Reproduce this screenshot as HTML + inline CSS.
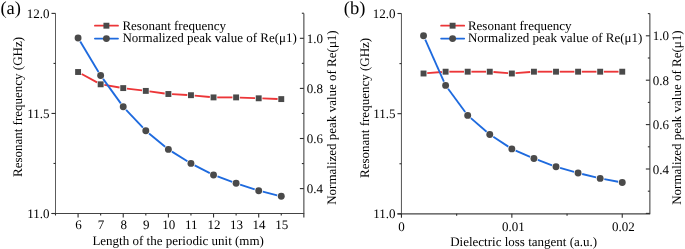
<!DOCTYPE html>
<html><head><meta charset="utf-8"><style>
html,body{margin:0;padding:0;background:#fff;width:685px;height:249px;overflow:hidden;}
svg{display:block;will-change:transform;}
text{font-family:"Liberation Serif",serif;text-rendering:geometricPrecision;}
</style></head><body>
<svg width="685" height="249" viewBox="0 0 685 249" font-family="Liberation Serif, serif">
<rect width="685" height="249" fill="#fff"/>
<line x1="55.50" y1="13.40" x2="55.50" y2="214.00" stroke="#5c5c5c" stroke-width="1.05" />
<line x1="303.85" y1="13.40" x2="303.85" y2="214.00" stroke="#5c5c5c" stroke-width="1.25" />
<line x1="51.50" y1="213.50" x2="303.85" y2="213.50" stroke="#444444" stroke-width="1.05" />
<line x1="51.50" y1="213.50" x2="55.50" y2="213.50" stroke="#2e2e2e" stroke-width="1.1" />
<line x1="51.50" y1="113.45" x2="55.50" y2="113.45" stroke="#2e2e2e" stroke-width="1.1" />
<line x1="51.50" y1="13.40" x2="55.50" y2="13.40" stroke="#2e2e2e" stroke-width="1.1" />
<line x1="53.50" y1="163.47" x2="55.50" y2="163.47" stroke="#2e2e2e" stroke-width="1.1" />
<line x1="53.50" y1="63.43" x2="55.50" y2="63.43" stroke="#2e2e2e" stroke-width="1.1" />
<line x1="299.85" y1="188.60" x2="303.85" y2="188.60" stroke="#2e2e2e" stroke-width="1.1" />
<line x1="299.85" y1="138.50" x2="303.85" y2="138.50" stroke="#2e2e2e" stroke-width="1.1" />
<line x1="299.85" y1="88.40" x2="303.85" y2="88.40" stroke="#2e2e2e" stroke-width="1.1" />
<line x1="299.85" y1="38.30" x2="303.85" y2="38.30" stroke="#2e2e2e" stroke-width="1.1" />
<line x1="301.85" y1="163.55" x2="303.85" y2="163.55" stroke="#2e2e2e" stroke-width="1.1" />
<line x1="301.85" y1="113.45" x2="303.85" y2="113.45" stroke="#2e2e2e" stroke-width="1.1" />
<line x1="301.85" y1="63.35" x2="303.85" y2="63.35" stroke="#2e2e2e" stroke-width="1.1" />
<line x1="301.85" y1="13.25" x2="303.85" y2="13.25" stroke="#2e2e2e" stroke-width="1.1" />
<line x1="78.08" y1="213.50" x2="78.08" y2="217.50" stroke="#2e2e2e" stroke-width="1.1" />
<line x1="123.23" y1="213.50" x2="123.23" y2="217.50" stroke="#2e2e2e" stroke-width="1.1" />
<line x1="168.39" y1="213.50" x2="168.39" y2="217.50" stroke="#2e2e2e" stroke-width="1.1" />
<line x1="213.54" y1="213.50" x2="213.54" y2="217.50" stroke="#2e2e2e" stroke-width="1.1" />
<line x1="258.70" y1="213.50" x2="258.70" y2="217.50" stroke="#2e2e2e" stroke-width="1.1" />
<line x1="303.85" y1="213.50" x2="303.85" y2="217.50" stroke="#2e2e2e" stroke-width="1.1" />
<line x1="55.50" y1="213.50" x2="55.50" y2="215.50" stroke="#2e2e2e" stroke-width="1.1" />
<line x1="100.65" y1="213.50" x2="100.65" y2="215.50" stroke="#2e2e2e" stroke-width="1.1" />
<line x1="145.81" y1="213.50" x2="145.81" y2="215.50" stroke="#2e2e2e" stroke-width="1.1" />
<line x1="190.96" y1="213.50" x2="190.96" y2="215.50" stroke="#2e2e2e" stroke-width="1.1" />
<line x1="236.12" y1="213.50" x2="236.12" y2="215.50" stroke="#2e2e2e" stroke-width="1.1" />
<line x1="281.27" y1="213.50" x2="281.27" y2="215.50" stroke="#2e2e2e" stroke-width="1.1" />
<text x="49.50" y="17.60" font-size="13" text-anchor="end" fill="#000000" >12.0</text>
<text x="49.50" y="117.65" font-size="13" text-anchor="end" fill="#000000" >11.5</text>
<text x="49.50" y="217.70" font-size="13" text-anchor="end" fill="#000000" >11.0</text>
<text x="306.85" y="42.80" font-size="13" text-anchor="start" fill="#000000" >1.0</text>
<text x="306.85" y="92.90" font-size="13" text-anchor="start" fill="#000000" >0.8</text>
<text x="306.85" y="143.00" font-size="13" text-anchor="start" fill="#000000" >0.6</text>
<text x="306.85" y="193.10" font-size="13" text-anchor="start" fill="#000000" >0.4</text>
<text x="78.48" y="229.10" font-size="13" text-anchor="middle" fill="#000000" >6</text>
<text x="101.05" y="229.10" font-size="13" text-anchor="middle" fill="#000000" >7</text>
<text x="123.63" y="229.10" font-size="13" text-anchor="middle" fill="#000000" >8</text>
<text x="146.21" y="229.10" font-size="13" text-anchor="middle" fill="#000000" >9</text>
<text x="168.79" y="229.10" font-size="13" text-anchor="middle" fill="#000000" >10</text>
<text x="191.36" y="229.10" font-size="13" text-anchor="middle" fill="#000000" >11</text>
<text x="213.94" y="229.10" font-size="13" text-anchor="middle" fill="#000000" >12</text>
<text x="236.52" y="229.10" font-size="13" text-anchor="middle" fill="#000000" >13</text>
<text x="259.10" y="229.10" font-size="13" text-anchor="middle" fill="#000000" >14</text>
<text x="281.67" y="229.10" font-size="13" text-anchor="middle" fill="#000000" >15</text>
<text x="92.40" y="244.70" font-size="13" text-anchor="start" fill="#000000" >Length of the periodic unit (mm)</text>
<text transform="translate(22.00,107.00) rotate(-90)" font-size="13" text-anchor="middle" fill="#000000">Resonant frequency (GHz)</text>
<text transform="translate(335.50,117.55) rotate(-90)" font-size="13" text-anchor="middle" fill="#000000">Normalized peak value of Re(μ1)</text>
<line x1="81.69" y1="73.97" x2="97.05" y2="82.33" stroke="#ec3638" stroke-width="1.85"/>
<line x1="104.34" y1="84.92" x2="119.54" y2="87.48" stroke="#ec3638" stroke-width="1.85"/>
<line x1="126.93" y1="88.56" x2="142.11" y2="90.44" stroke="#ec3638" stroke-width="1.85"/>
<line x1="149.50" y1="91.41" x2="164.69" y2="93.49" stroke="#ec3638" stroke-width="1.85"/>
<line x1="172.09" y1="94.20" x2="187.26" y2="95.00" stroke="#ec3638" stroke-width="1.85"/>
<line x1="194.66" y1="95.56" x2="209.84" y2="97.04" stroke="#ec3638" stroke-width="1.85"/>
<line x1="217.24" y1="97.40" x2="232.42" y2="97.40" stroke="#ec3638" stroke-width="1.85"/>
<line x1="239.82" y1="97.55" x2="255.00" y2="98.15" stroke="#ec3638" stroke-width="1.85"/>
<line x1="262.39" y1="98.43" x2="277.57" y2="98.97" stroke="#ec3638" stroke-width="1.85"/>
<rect x="75.13" y="69.05" width="5.9" height="5.9" fill="#4a4a4a"/>
<rect x="97.70" y="81.35" width="5.9" height="5.9" fill="#4a4a4a"/>
<rect x="120.28" y="85.15" width="5.9" height="5.9" fill="#4a4a4a"/>
<rect x="142.86" y="87.95" width="5.9" height="5.9" fill="#4a4a4a"/>
<rect x="165.44" y="91.05" width="5.9" height="5.9" fill="#4a4a4a"/>
<rect x="188.01" y="92.25" width="5.9" height="5.9" fill="#4a4a4a"/>
<rect x="210.59" y="94.45" width="5.9" height="5.9" fill="#4a4a4a"/>
<rect x="233.17" y="94.45" width="5.9" height="5.9" fill="#4a4a4a"/>
<rect x="255.75" y="95.35" width="5.9" height="5.9" fill="#4a4a4a"/>
<rect x="278.32" y="96.15" width="5.9" height="5.9" fill="#4a4a4a"/>
<line x1="80.24" y1="41.60" x2="98.49" y2="71.90" stroke="#1e6ade" stroke-width="1.85"/>
<line x1="103.11" y1="78.91" x2="120.77" y2="103.39" stroke="#1e6ade" stroke-width="1.85"/>
<line x1="126.11" y1="109.86" x2="142.93" y2="127.74" stroke="#1e6ade" stroke-width="1.85"/>
<line x1="149.05" y1="133.47" x2="165.14" y2="146.73" stroke="#1e6ade" stroke-width="1.85"/>
<line x1="171.96" y1="151.61" x2="187.39" y2="161.19" stroke="#1e6ade" stroke-width="1.85"/>
<line x1="194.70" y1="165.32" x2="209.81" y2="173.08" stroke="#1e6ade" stroke-width="1.85"/>
<line x1="217.48" y1="176.45" x2="232.18" y2="181.85" stroke="#1e6ade" stroke-width="1.85"/>
<line x1="240.11" y1="184.61" x2="254.70" y2="189.39" stroke="#1e6ade" stroke-width="1.85"/>
<line x1="262.77" y1="191.71" x2="277.20" y2="195.29" stroke="#1e6ade" stroke-width="1.85"/>
<circle cx="78.08" cy="38.00" r="3.45" fill="#4a4a4a"/>
<circle cx="100.65" cy="75.50" r="3.45" fill="#4a4a4a"/>
<circle cx="123.23" cy="106.80" r="3.45" fill="#4a4a4a"/>
<circle cx="145.81" cy="130.80" r="3.45" fill="#4a4a4a"/>
<circle cx="168.39" cy="149.40" r="3.45" fill="#4a4a4a"/>
<circle cx="190.96" cy="163.40" r="3.45" fill="#4a4a4a"/>
<circle cx="213.54" cy="175.00" r="3.45" fill="#4a4a4a"/>
<circle cx="236.12" cy="183.30" r="3.45" fill="#4a4a4a"/>
<circle cx="258.70" cy="190.70" r="3.45" fill="#4a4a4a"/>
<circle cx="281.27" cy="196.30" r="3.45" fill="#4a4a4a"/>
<line x1="94.90" y1="25.70" x2="118.00" y2="25.70" stroke="#ec3638" stroke-width="1.75" stroke-linecap="round"/>
<rect x="103.45" y="22.75" width="5.9" height="5.9" fill="#4a4a4a"/>
<line x1="94.90" y1="38.60" x2="118.00" y2="38.60" stroke="#1e6ade" stroke-width="1.75" stroke-linecap="round"/>
<circle cx="106.40" cy="38.60" r="3.45" fill="#4a4a4a"/>
<text x="122.40" y="29.80" font-size="13" text-anchor="start" fill="#000000" >Resonant frequency</text>
<text x="122.40" y="42.30" font-size="13" text-anchor="start" fill="#000000" >Normalized peak value of Re(μ1)</text>
<line x1="401.45" y1="13.50" x2="401.45" y2="214.35" stroke="#5c5c5c" stroke-width="1.05" />
<line x1="649.85" y1="13.50" x2="649.85" y2="214.35" stroke="#5c5c5c" stroke-width="1.25" />
<line x1="397.45" y1="213.85" x2="649.85" y2="213.85" stroke="#444444" stroke-width="1.25" />
<line x1="397.45" y1="213.85" x2="401.45" y2="213.85" stroke="#2e2e2e" stroke-width="1.1" />
<line x1="397.45" y1="113.67" x2="401.45" y2="113.67" stroke="#2e2e2e" stroke-width="1.1" />
<line x1="397.45" y1="13.50" x2="401.45" y2="13.50" stroke="#2e2e2e" stroke-width="1.1" />
<line x1="399.45" y1="163.76" x2="401.45" y2="163.76" stroke="#2e2e2e" stroke-width="1.1" />
<line x1="399.45" y1="63.59" x2="401.45" y2="63.59" stroke="#2e2e2e" stroke-width="1.1" />
<line x1="645.85" y1="213.40" x2="649.85" y2="213.40" stroke="#2e2e2e" stroke-width="1.1" />
<line x1="645.85" y1="169.00" x2="649.85" y2="169.00" stroke="#2e2e2e" stroke-width="1.1" />
<line x1="645.85" y1="124.60" x2="649.85" y2="124.60" stroke="#2e2e2e" stroke-width="1.1" />
<line x1="645.85" y1="80.20" x2="649.85" y2="80.20" stroke="#2e2e2e" stroke-width="1.1" />
<line x1="645.85" y1="35.80" x2="649.85" y2="35.80" stroke="#2e2e2e" stroke-width="1.1" />
<line x1="647.85" y1="191.20" x2="649.85" y2="191.20" stroke="#2e2e2e" stroke-width="1.1" />
<line x1="647.85" y1="146.80" x2="649.85" y2="146.80" stroke="#2e2e2e" stroke-width="1.1" />
<line x1="647.85" y1="102.40" x2="649.85" y2="102.40" stroke="#2e2e2e" stroke-width="1.1" />
<line x1="647.85" y1="58.00" x2="649.85" y2="58.00" stroke="#2e2e2e" stroke-width="1.1" />
<line x1="647.85" y1="13.60" x2="649.85" y2="13.60" stroke="#2e2e2e" stroke-width="1.1" />
<line x1="401.45" y1="213.85" x2="401.45" y2="217.85" stroke="#2e2e2e" stroke-width="1.1" />
<line x1="511.85" y1="213.85" x2="511.85" y2="217.85" stroke="#2e2e2e" stroke-width="1.1" />
<line x1="622.25" y1="213.85" x2="622.25" y2="217.85" stroke="#2e2e2e" stroke-width="1.1" />
<line x1="456.65" y1="213.85" x2="456.65" y2="215.85" stroke="#2e2e2e" stroke-width="1.1" />
<line x1="567.05" y1="213.85" x2="567.05" y2="215.85" stroke="#2e2e2e" stroke-width="1.1" />
<text x="395.45" y="17.70" font-size="13" text-anchor="end" fill="#000000" >12.0</text>
<text x="395.45" y="117.88" font-size="13" text-anchor="end" fill="#000000" >11.5</text>
<text x="395.45" y="218.05" font-size="13" text-anchor="end" fill="#000000" >11.0</text>
<text x="652.85" y="40.30" font-size="13" text-anchor="start" fill="#000000" >1.0</text>
<text x="652.85" y="84.70" font-size="13" text-anchor="start" fill="#000000" >0.8</text>
<text x="652.85" y="129.10" font-size="13" text-anchor="start" fill="#000000" >0.6</text>
<text x="652.85" y="173.50" font-size="13" text-anchor="start" fill="#000000" >0.4</text>
<text x="401.45" y="230.90" font-size="13" text-anchor="middle" fill="#000000" >0</text>
<text x="513.35" y="230.90" font-size="13" text-anchor="middle" fill="#000000" >0.01</text>
<text x="623.45" y="230.90" font-size="13" text-anchor="middle" fill="#000000" >0.02</text>
<text x="450.20" y="245.60" font-size="13" text-anchor="start" fill="#000000" >Dielectric loss tangent (a.u.)</text>
<text transform="translate(368.90,107.90) rotate(-90)" font-size="13" text-anchor="middle" fill="#000000">Resonant frequency (GHz)</text>
<text transform="translate(680.60,117.60) rotate(-90)" font-size="13" text-anchor="middle" fill="#000000">Normalized peak value of Re(μ1)</text>
<line x1="427.23" y1="73.20" x2="441.91" y2="72.00" stroke="#ec3638" stroke-width="1.85"/>
<line x1="449.31" y1="71.70" x2="463.99" y2="71.70" stroke="#ec3638" stroke-width="1.85"/>
<line x1="471.39" y1="71.70" x2="486.07" y2="71.70" stroke="#ec3638" stroke-width="1.85"/>
<line x1="493.47" y1="72.00" x2="508.15" y2="73.20" stroke="#ec3638" stroke-width="1.85"/>
<line x1="515.55" y1="73.20" x2="530.23" y2="72.00" stroke="#ec3638" stroke-width="1.85"/>
<line x1="537.63" y1="71.70" x2="552.31" y2="71.70" stroke="#ec3638" stroke-width="1.85"/>
<line x1="559.71" y1="71.70" x2="574.39" y2="71.70" stroke="#ec3638" stroke-width="1.85"/>
<line x1="581.79" y1="71.70" x2="596.47" y2="71.70" stroke="#ec3638" stroke-width="1.85"/>
<line x1="603.87" y1="71.70" x2="618.55" y2="71.70" stroke="#ec3638" stroke-width="1.85"/>
<rect x="420.58" y="70.55" width="5.9" height="5.9" fill="#4a4a4a"/>
<rect x="442.66" y="68.75" width="5.9" height="5.9" fill="#4a4a4a"/>
<rect x="464.74" y="68.75" width="5.9" height="5.9" fill="#4a4a4a"/>
<rect x="486.82" y="68.75" width="5.9" height="5.9" fill="#4a4a4a"/>
<rect x="508.90" y="70.55" width="5.9" height="5.9" fill="#4a4a4a"/>
<rect x="530.98" y="68.75" width="5.9" height="5.9" fill="#4a4a4a"/>
<rect x="553.06" y="68.75" width="5.9" height="5.9" fill="#4a4a4a"/>
<rect x="575.14" y="68.75" width="5.9" height="5.9" fill="#4a4a4a"/>
<rect x="597.22" y="68.75" width="5.9" height="5.9" fill="#4a4a4a"/>
<rect x="619.30" y="68.75" width="5.9" height="5.9" fill="#4a4a4a"/>
<line x1="425.24" y1="39.64" x2="443.90" y2="81.56" stroke="#1e6ade" stroke-width="1.85"/>
<line x1="448.10" y1="88.78" x2="465.20" y2="112.02" stroke="#1e6ade" stroke-width="1.85"/>
<line x1="470.87" y1="118.15" x2="486.59" y2="131.75" stroke="#1e6ade" stroke-width="1.85"/>
<line x1="493.29" y1="136.79" x2="508.33" y2="146.61" stroke="#1e6ade" stroke-width="1.85"/>
<line x1="515.70" y1="150.57" x2="530.08" y2="156.83" stroke="#1e6ade" stroke-width="1.85"/>
<line x1="537.86" y1="159.98" x2="552.08" y2="165.32" stroke="#1e6ade" stroke-width="1.85"/>
<line x1="560.05" y1="167.94" x2="574.05" y2="171.86" stroke="#1e6ade" stroke-width="1.85"/>
<line x1="582.17" y1="174.00" x2="596.09" y2="177.40" stroke="#1e6ade" stroke-width="1.85"/>
<line x1="604.30" y1="179.17" x2="618.12" y2="181.73" stroke="#1e6ade" stroke-width="1.85"/>
<circle cx="423.53" cy="35.80" r="3.45" fill="#4a4a4a"/>
<circle cx="445.61" cy="85.40" r="3.45" fill="#4a4a4a"/>
<circle cx="467.69" cy="115.40" r="3.45" fill="#4a4a4a"/>
<circle cx="489.77" cy="134.50" r="3.45" fill="#4a4a4a"/>
<circle cx="511.85" cy="148.90" r="3.45" fill="#4a4a4a"/>
<circle cx="533.93" cy="158.50" r="3.45" fill="#4a4a4a"/>
<circle cx="556.01" cy="166.80" r="3.45" fill="#4a4a4a"/>
<circle cx="578.09" cy="173.00" r="3.45" fill="#4a4a4a"/>
<circle cx="600.17" cy="178.40" r="3.45" fill="#4a4a4a"/>
<circle cx="622.25" cy="182.50" r="3.45" fill="#4a4a4a"/>
<line x1="441.10" y1="25.70" x2="464.20" y2="25.70" stroke="#ec3638" stroke-width="1.75" stroke-linecap="round"/>
<rect x="449.65" y="22.75" width="5.9" height="5.9" fill="#4a4a4a"/>
<line x1="441.10" y1="38.60" x2="464.20" y2="38.60" stroke="#1e6ade" stroke-width="1.75" stroke-linecap="round"/>
<circle cx="452.60" cy="38.60" r="3.45" fill="#4a4a4a"/>
<text x="467.90" y="29.80" font-size="13" text-anchor="start" fill="#000000" >Resonant frequency</text>
<text x="467.90" y="42.30" font-size="13" text-anchor="start" fill="#000000" >Normalized peak value of Re(μ1)</text>
<text x="0.40" y="14.00" font-size="18.5" text-anchor="start" fill="#000000" >(a)</text>
<text x="343.80" y="14.00" font-size="18.5" text-anchor="start" fill="#000000" >(b)</text>
</svg>
</body></html>
